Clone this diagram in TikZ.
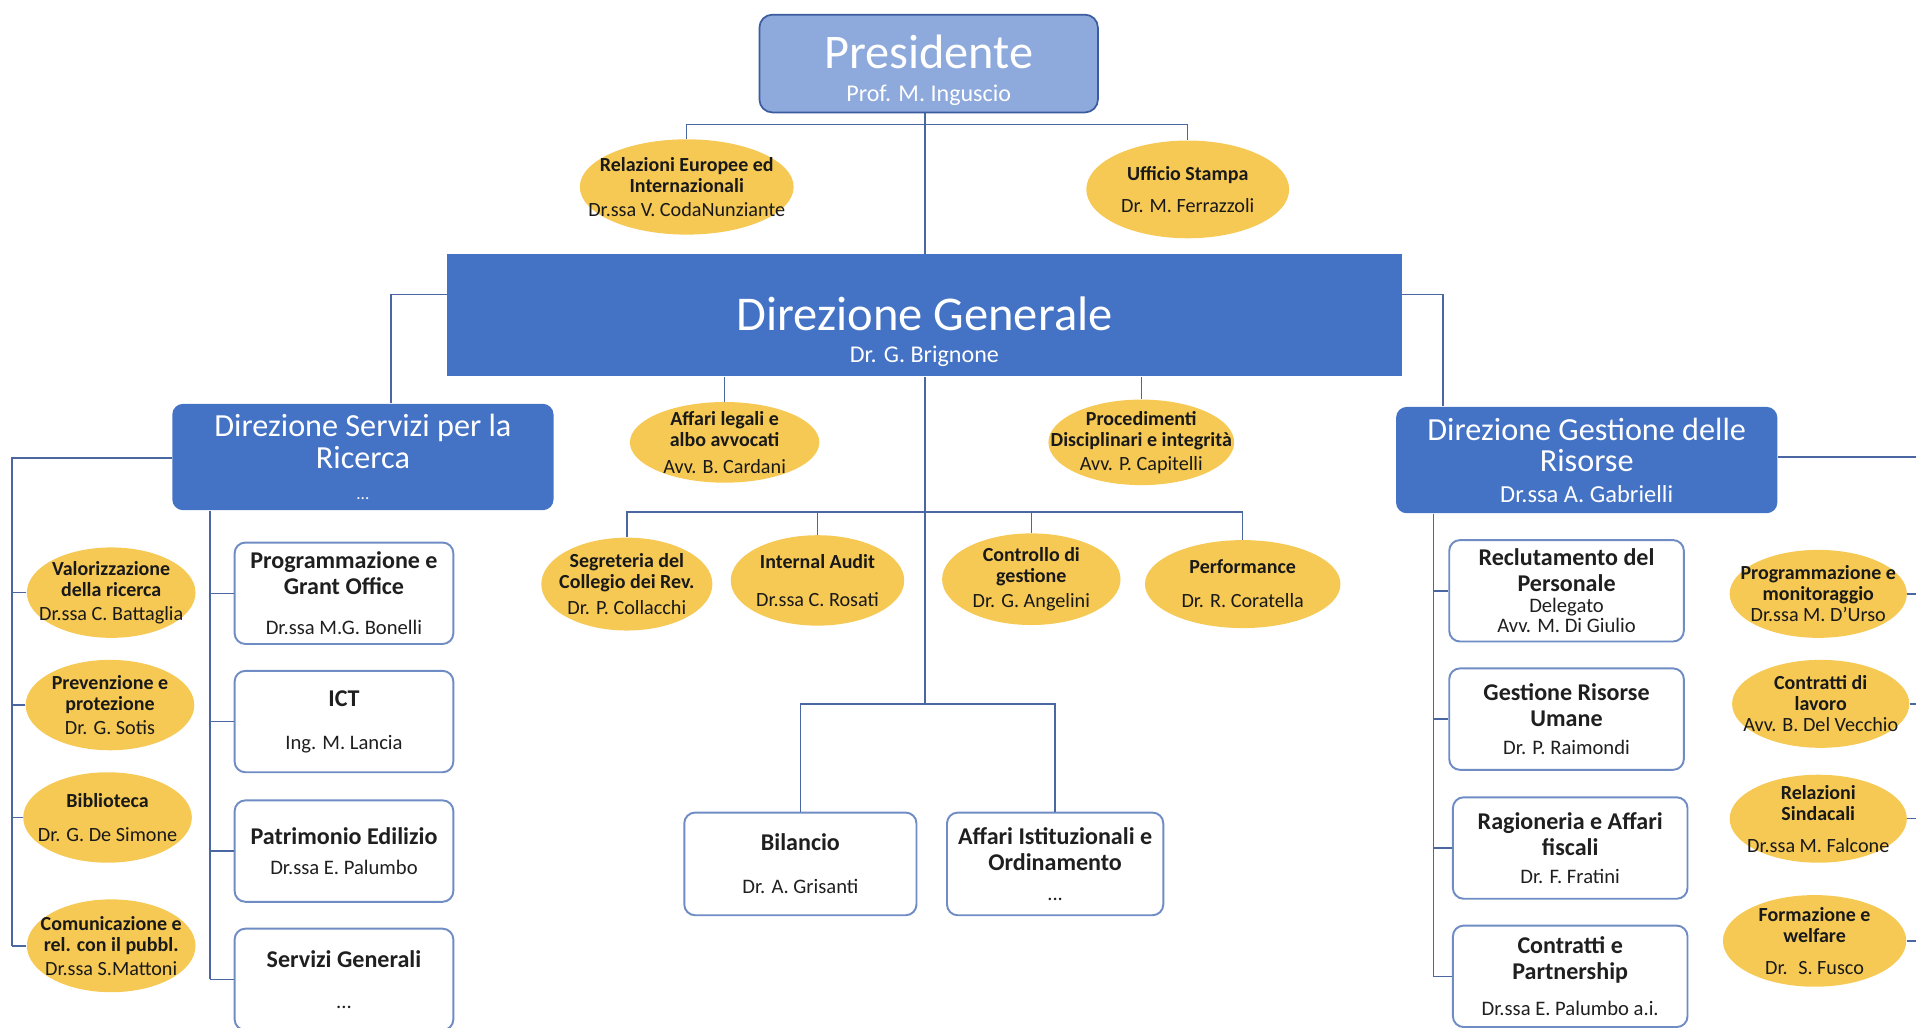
\documentclass[tikz,border=0pt]{standalone}
\usepackage{fontspec}
\setmainfont{Carlito}
\usepackage{tikz}
\usetikzlibrary{shapes.geometric, positioning}
\definecolor{dgblue}{HTML}{4472C4}
\definecolor{presfill}{HTML}{8EA9DB}
\definecolor{presline}{HTML}{3B5C9E}
\definecolor{gold}{HTML}{F6C954}
\definecolor{wirecol}{HTML}{4A67A1}
\definecolor{boxline}{HTML}{6F8CC4}
\newcommand{\who}[1]{{\mdseries\fontsize{9.6}{11}\selectfont #1}}
\newcommand{\ewho}[1]{{\mdseries\fontsize{9.4}{10.5}\selectfont #1}}

\begin{document}
\begin{tikzpicture}[x=0.2mm, y=-0.2mm,
    capo/.style={rounded corners=6pt, draw=presline, line width=0.8pt, fill=presfill, minimum width=55.4mm, minimum height=16mm, align=center, text=white, inner sep=1pt},
    dirgen/.style={fill=dgblue, draw=none, minimum width=156.2mm, minimum height=20mm, align=center, text=white, inner sep=1pt},
    direz/.style={rounded corners=5pt, fill=dgblue, draw=none, minimum width=62.4mm, minimum height=17.4mm, align=center, text=white, inner sep=1pt},
    unit/.style={rounded corners=5pt, draw=boxline, line width=0.9pt, fill=white, minimum width=35.8mm, minimum height=16.6mm, align=center, inner sep=1pt, font=\bfseries\fontsize{11.2}{12}\selectfont, text=black!88},
    office/.style={ellipse, fill=gold, draw=none, inner xsep=-6mm, inner ysep=-3mm, align=center, font=\bfseries\fontsize{9.3}{9.8}\selectfont, text=black!90},
    wire/.style={draw=wirecol, line width=0.7pt},
]
\useasboundingbox (0,0) rectangle (1568,841);
\clip (0,0) rectangle (1568,841);

% Presidente e Direzione Generale
\node[capo] (pres) at (760,52) {\rule{0pt}{22pt}{\fontsize{22.5}{23}\selectfont Presidente}\\[3pt]{\fontsize{11.2}{12}\selectfont Prof. M. Inguscio}};
\node[dirgen] (dg) at (756.5,258) {\rule{0pt}{31pt}{\fontsize{22.6}{23}\selectfont Direzione Generale}\\[2.5pt]{\fontsize{11.2}{12}\selectfont Dr. G. Brignone}};

% Staff del Presidente
\node[office, minimum width=35mm, minimum height=15.6mm] (rel) at (562,153) {Relazioni Europee ed\\Internazionali\\[1.5pt]\ewho{Dr.ssa V. CodaNunziante}};
\node[office, minimum width=33.2mm, minimum height=16mm] (uff) at (972,155) {Ufficio Stampa\\[5pt]\ewho{Dr. M. Ferrazzoli}};

% Direzioni
\node[direz, font=\fontsize{15}{14.5}\selectfont] (dsr) at (297,374) {Direzione Servizi per la\\Ricerca\\[0pt]{\fontsize{8}{9}\selectfont ...}};
\node[direz, font=\fontsize{15}{14.5}\selectfont] (dgr) at (1298.5,376.5) {Direzione Gestione delle\\Risorse\\[0pt]{\fontsize{11.4}{12}\selectfont Dr.ssa A. Gabrielli}};

% Staff della Direzione Generale
\node[office, minimum width=31mm, minimum height=13.2mm] (leg) at (593,362) {Affari legali e\\albo avvocati\\[3pt]\ewho{Avv. B. Cardani}};
\node[office, minimum width=30.4mm, minimum height=14mm] (pro) at (934,362) {Procedimenti\\Disciplinari e integrità\\[1.5pt]\ewho{Avv. P. Capitelli}};
\node[office, minimum width=28mm, minimum height=15.2mm] (seg) at (513,478) {Segreteria del\\Collegio dei Rev.\\[2pt]\ewho{Dr. P. Collacchi}};
\node[office, minimum width=28.4mm, minimum height=14.8mm] (aud) at (669,475) {Internal Audit\\[8pt]\ewho{Dr.ssa C. Rosati}};
\node[office, minimum width=29.2mm, minimum height=15mm] (con) at (844,474) {Controllo di\\gestione\\[2pt]\ewho{Dr. G. Angelini}};
\node[office, minimum width=32mm, minimum height=14.4mm] (per) at (1017,478) {Performance\\[6pt]\ewho{Dr. R. Coratella}};

% Uffici della Direzione Generale
\node[unit, minimum width=38mm, minimum height=16.8mm] (bil) at (655,707) {Bilancio\\[8pt]\who{Dr. A. Grisanti}};
\node[unit, minimum width=35.4mm, minimum height=16.8mm] (ist) at (863.5,707) {Affari Istituzionali e\\Ordinamento\\[2pt]\who{...}};

% Direzione Servizi per la Ricerca
\node[office, minimum width=27.6mm, minimum height=14.8mm] (sl1) at (91,485) {Valorizzazione\\della ricerca\\[1.5pt]\ewho{Dr.ssa C. Battaglia}};
\node[office, minimum width=27.6mm, minimum height=14.8mm] (sl2) at (90,577) {Prevenzione e\\protezione\\[1.5pt]\ewho{Dr. G. Sotis}};
\node[office, minimum width=27.6mm, minimum height=14.8mm] (sl3) at (88,669) {Biblioteca\\[6pt]\ewho{Dr. G. De Simone}};
\node[office, minimum width=27.6mm, minimum height=15.2mm] (sl4) at (91,774) {Comunicazione e\\rel. con il pubbl.\\[1.5pt]\ewho{Dr.ssa S.Mattoni}};

\node[unit] (ul1) at (281.5,485.5) {Programmazione e\\Grant Office\\[7pt]\who{Dr.ssa M.G. Bonelli}};
\node[unit] (ul2) at (281.5,590.5) {ICT\\[8pt]\who{Ing. M. Lancia}};
\node[unit] (ul3) at (281.5,696.5) {Patrimonio Edilizio\\[2pt]\who{Dr.ssa E. Palumbo}};
\node[unit] (ul4) at (281.5,801.5) {Servizi Generali\\[7pt]\who{...}};

% Direzione Gestione delle Risorse
\node[unit, minimum width=38.4mm] (ur1) at (1282,483.5) {Reclutamento del\\Personale\\[-2pt]\who{Delegato}\\[-2.5pt]\who{Avv. M. Di Giulio}};
\node[unit, minimum width=38.4mm] (ur2) at (1282,588.5) {Gestione Risorse\\Umane\\[1pt]\who{Dr. P. Raimondi}};
\node[unit, minimum width=38.4mm] (ur3) at (1285,694) {Ragioneria e Affari\\fiscali\\[1pt]\who{Dr. F. Fratini}};
\node[unit, minimum width=38.4mm] (ur4) at (1285,799) {Contratti e\\Partnership\\[5pt]\who{Dr.ssa E. Palumbo a.i.}};

\node[office, minimum width=29mm, minimum height=14.4mm] (sr1) at (1488,486) {Programmazione e\\monitoraggio\\[0pt]\ewho{Dr.ssa M. D’Urso}};
\node[office, minimum width=29mm, minimum height=14.4mm] (sr2) at (1490,576) {Contratti di\\lavoro\\[0pt]\ewho{Avv. B. Del Vecchio}};
\node[office, minimum width=29mm, minimum height=14.4mm] (sr3) at (1488,670) {Relazioni\\Sindacali\\[5pt]\ewho{Dr.ssa M. Falcone}};
\node[office, minimum width=30mm, minimum height=15mm] (sr4) at (1485,770) {Formazione e\\welfare\\[5pt]\ewho{Dr.~ S. Fusco}};

% Punti di snodo
\coordinate (pbus) at (757,102);
\coordinate (dgl) at (320,241);
\coordinate (dgrr) at (1181,241);
\coordinate (mbus) at (757,419);
\coordinate (cbus) at (757,576);
\coordinate (lout) at (10,375);
\coordinate (lin) at (172,420);
\coordinate (rin) at (1173,420);
\coordinate (rout) at (1568,374);

% Collegamenti
\draw[wire] (pres.south -| pbus) -- (dg.north -| pbus);
\draw[wire] (rel.north) -- (rel.north |- pbus) -- (uff.north |- pbus) -- (uff.north);
\draw[wire] (dg.west |- dgl) -- (dgl) -- (dgl |- dsr.north);
\draw[wire] (dg.east |- dgrr) -- (dgrr) -- (dgrr |- dgr.north);
\draw[wire] (dg.south -| cbus) -- (cbus);
\draw[wire] (leg.north) -- (leg.north |- dg.south);
\draw[wire] (pro.north) -- (pro.north |- dg.south);
\draw[wire] (seg.north) |- (mbus) -| (per.north);
\draw[wire] (aud.north) -- (aud.north |- mbus);
\draw[wire] (con.north) -- (con.north |- mbus);
\draw[wire] (bil.north) |- (cbus) -| (ist.north);

\draw[wire] (dsr.west |- lout) -- (lout) -- (lout |- sl4.west);
\foreach \s in {sl1,sl2,sl3,sl4}
  \draw[wire] (\s.west) -- (\s.west -| lout);
\draw[wire] (dsr.south -| lin) -- (lin |- ul4.west);
\foreach \u in {ul1,ul2,ul3,ul4}
  \draw[wire] (\u.west) -- (\u.west -| lin);

\draw[wire] (dgr.east |- rout) -- (rout);
\draw[wire] (dgr.south -| rin) -- (rin |- ur4.west);
\foreach \u in {ur1,ur2,ur3,ur4}
  \draw[wire] (\u.west) -- (\u.west -| rin);
\foreach \s in {sr1,sr2,sr3,sr4}
  \draw[wire] (\s.east) -- (\s.east -| rout);

\end{tikzpicture}
\end{document}
